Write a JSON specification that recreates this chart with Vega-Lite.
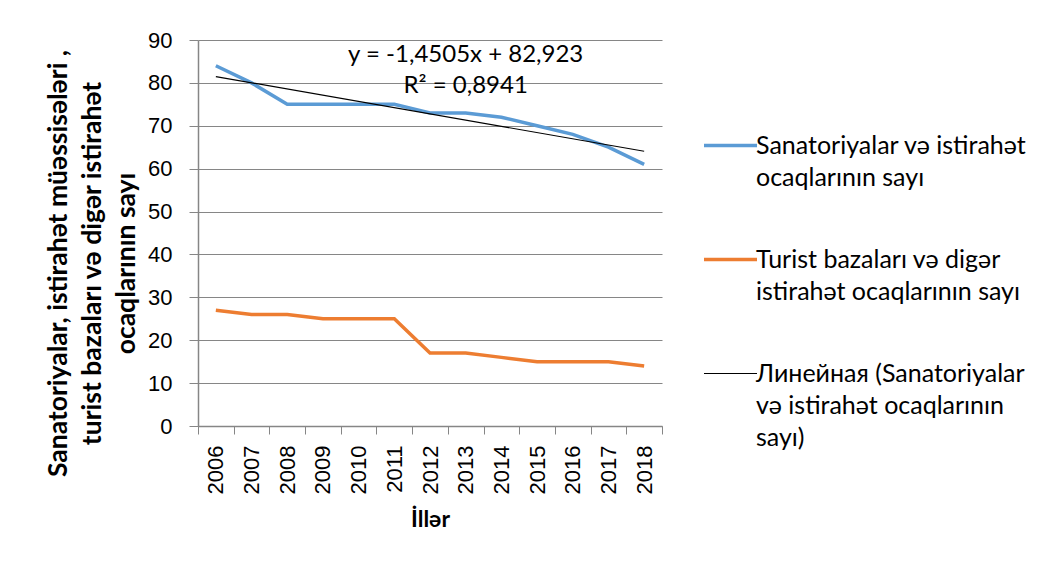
{
  "$schema": "https://vega.github.io/schema/vega-lite/v6.json",
  "width": 464,
  "height": 386,
  "autosize": "none",
  "padding": {"left": 198, "top": 40, "right": 384, "bottom": 139},
  "background": "white",
  "config": {"view": {"stroke": null}, "font": "Liberation Sans"},
  "data": {
    "values": [
      {"year": 2006, "series": "san", "value": 84},
      {"year": 2007, "series": "san", "value": 80},
      {"year": 2008, "series": "san", "value": 75},
      {"year": 2009, "series": "san", "value": 75},
      {"year": 2010, "series": "san", "value": 75},
      {"year": 2011, "series": "san", "value": 75},
      {"year": 2012, "series": "san", "value": 73},
      {"year": 2013, "series": "san", "value": 73},
      {"year": 2014, "series": "san", "value": 72},
      {"year": 2015, "series": "san", "value": 70},
      {"year": 2016, "series": "san", "value": 68},
      {"year": 2017, "series": "san", "value": 65},
      {"year": 2018, "series": "san", "value": 61},
      {"year": 2006, "series": "tur", "value": 27},
      {"year": 2007, "series": "tur", "value": 26},
      {"year": 2008, "series": "tur", "value": 26},
      {"year": 2009, "series": "tur", "value": 25},
      {"year": 2010, "series": "tur", "value": 25},
      {"year": 2011, "series": "tur", "value": 25},
      {"year": 2012, "series": "tur", "value": 17},
      {"year": 2013, "series": "tur", "value": 17},
      {"year": 2014, "series": "tur", "value": 16},
      {"year": 2015, "series": "tur", "value": 15},
      {"year": 2016, "series": "tur", "value": 15},
      {"year": 2017, "series": "tur", "value": 15},
      {"year": 2018, "series": "tur", "value": 14}
    ]
  },
  "encoding": {
    "x": {
      "field": "year",
      "type": "ordinal",
      "scale": {"paddingInner": 0, "paddingOuter": 0},
      "axis": {
        "title": "İllər",
        "titleFont": "Lato",
        "titleFontSize": 23,
        "titleFontWeight": "bold",
        "titleColor": "black",
        "titlePadding": 15,
        "labelAngle": -90,
        "labelFontSize": 22,
        "labelColor": "black",
        "labelPadding": 11,
        "tickBand": "extent",
        "tickSize": 8,
        "tickColor": "#868686",
        "domainColor": "#868686",
        "domainWidth": 1.5
      }
    },
    "y": {
      "field": "value",
      "type": "quantitative",
      "scale": {"domain": [0, 90]},
      "axis": {
        "values": [0, 10, 20, 30, 40, 50, 60, 70, 80, 90],
        "title": ["Sanatoriyalar, istirahət müəssisələri ,", "turist bazaları və digər istirahət", "ocaqlarının sayı"],
        "titleFont": "Lato",
        "titleFontSize": 26.5,
        "titleFontWeight": "bold",
        "titleColor": "black",
        "titleLineHeight": 34,
        "titlePadding": 7,
        "titleY": 223,
        "labelFontSize": 22,
        "labelColor": "black",
        "labelPadding": 17,
        "tickSize": 9,
        "tickColor": "#868686",
        "domainColor": "#868686",
        "domainWidth": 1.5,
        "gridColor": "#868686",
        "gridWidth": 1
      }
    }
  },
  "layer": [
    {
      "mark": {"type": "line", "strokeWidth": 3.5},
      "encoding": {
        "color": {
          "field": "series",
          "type": "nominal",
          "scale": {"domain": ["san", "tur", "lin"], "range": ["#5B9BD5", "#ED7D31", "#000000"]},
          "legend": {
            "title": null,
            "orient": "none",
            "legendX": 520,
            "legendY": 93,
            "padding": 0,
            "symbolType": "stroke",
            "symbolSize": 2809,
            "symbolStrokeWidth": 3.5,
            "labelFont": "Lato",
            "labelFontSize": 25,
            "labelColor": "black",
            "labelOffset": 13,
            "labelLimit": 400,
            "rowPadding": 56,
            "labelExpr": "datum.value === 'san' ? ['Sanatoriyalar və istirahət', 'ocaqlarının sayı'] : datum.value === 'tur' ? ['Turist bazaları və digər', 'istirahət ocaqlarının sayı'] : ['Линейная (Sanatoriyalar', 'və istirahət ocaqlarının', 'sayı)']",
            "encode": {
              "symbols": {"update": {"strokeWidth": {"signal": "datum.value === 'lin' ? 1.2 : 3.5"}}},
              "labels": {"update": {"lineHeight": {"value": 32}}}
            }
          }
        }
      }
    },
    {
      "transform": [
        {"filter": "datum.series === 'san'"},
        {"regression": "value", "on": "year"}
      ],
      "mark": {"type": "line", "strokeWidth": 1.2},
      "encoding": {
        "color": {"datum": "lin"}
      }
    },
    {
      "transform": [
        {"filter": "datum.series === 'san' && datum.year === 2013"}
      ],
      "mark": {
        "type": "text",
        "text": ["y = -1,4505x + 82,923", "R² = 0,8941"],
        "font": "Lato",
        "fontSize": 24,
        "lineHeight": 31,
        "color": "black"
      },
      "encoding": {
        "x": {"datum": 2013, "type": "ordinal"},
        "y": {"datum": 86.5, "type": "quantitative"}
      }
    }
  ]
}
